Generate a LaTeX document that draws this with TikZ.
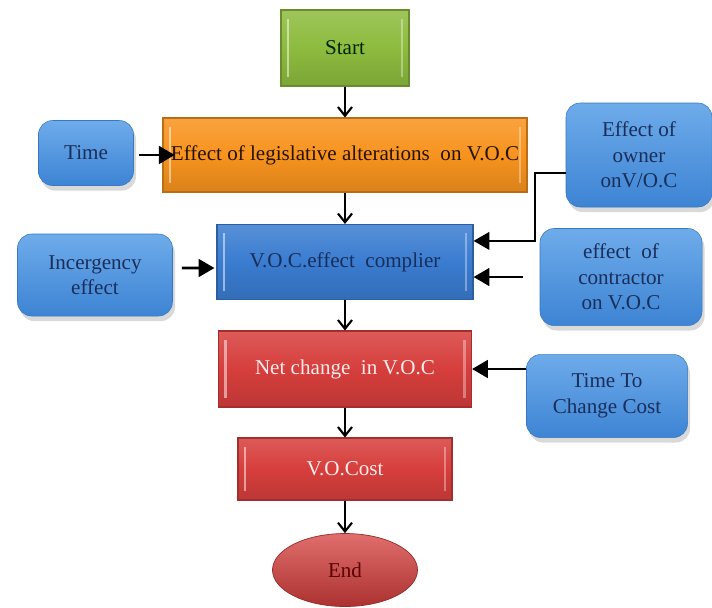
\documentclass[tikz,border=0pt]{standalone}
\usepackage{fontspec}
\setmainfont{Liberation Serif}
\usepackage{tikz}
\usetikzlibrary{arrows.meta, shapes.geometric, shadows, calc}

\definecolor{startgreen}{HTML}{8DBB3E}
\definecolor{legisorange}{HTML}{F7931E}
\definecolor{mainblue}{HTML}{3A7CD0}
\definecolor{sidetop}{HTML}{6EABEA}
\definecolor{sidebottom}{HTML}{3D84D4}
\definecolor{boxred}{HTML}{D63E3C}
\definecolor{navytext}{HTML}{1A2E5A}

\begin{document}
\begin{tikzpicture}[
  font=\fontsize{12}{14.5}\selectfont,
  flowbox/.style={rectangle, draw=#1!75!black, line width=0.6pt, top color=#1!85!white, bottom color=#1!88!black, middle color=#1, align=center, inner sep=2pt,
    path picture={
      \draw[white, opacity=0.5, line width=1.5pt] ([xshift=4pt,yshift=-5pt]path picture bounding box.north west) -- ([xshift=4pt,yshift=5pt]path picture bounding box.south west);
      \draw[white, opacity=0.35, line width=1.5pt] ([xshift=-4pt,yshift=-5pt]path picture bounding box.north east) -- ([xshift=-4pt,yshift=5pt]path picture bounding box.south east);
    }},
  sidebox/.style={rectangle, rounded corners=8pt, draw=sidebottom!90!black, line width=0.3pt, top color=sidetop, bottom color=sidebottom, text=navytext, align=center, drop shadow={opacity=0.3, shadow xshift=0.5mm, shadow yshift=-1mm}},
  flowarrow/.style={line width=1.2pt, -{Straight Barb[length=5pt, width=8pt]}},
  sidearrow/.style={line width=1.6pt, -{Triangle[length=9pt, width=10pt]}}
]
\useasboundingbox (0,0) rectangle (14.24,-12.14);

\node[flowbox=startgreen, minimum width=2.56cm, minimum height=1.52cm, text=black!85!green] (start) at (6.90,-0.96) {Start};
\node[flowbox=legisorange, minimum width=7.28cm, minimum height=1.48cm, text=black!85!orange] (legis) at (6.90,-3.10) {Effect of legislative alterations\ \ on V.O.C};
\node[flowbox=mainblue, minimum width=5.12cm, minimum height=1.50cm, text=navytext] (complier) at (6.90,-5.24) {V.O.C.effect\ \ complier};
\node[flowbox=boxred, minimum width=5.06cm, minimum height=1.52cm, text=white!92!red] (netchange) at (6.90,-7.38) {Net change\ \ in V.O.C};
\node[flowbox=boxred, minimum width=4.28cm, minimum height=1.24cm, text=white!92!red] (vocost) at (6.90,-9.38) {V.O.Cost};
\node[ellipse, draw=boxred!70!black, top color=boxred!75!white, middle color=boxred, bottom color=boxred!80!black, minimum width=2.9cm, minimum height=1.46cm, text=black!65!red] (stop) at (6.90,-11.40) {End};

\node[sidebox, minimum width=1.90cm, minimum height=1.30cm] (time) at (1.72,-3.06) {Time};
\node[sidebox, minimum width=3.10cm, minimum height=1.64cm] (incergency) at (1.90,-5.50) {Incergency\\effect};
\node[sidebox, minimum width=2.92cm, minimum height=2.08cm] (owner) at (12.78,-3.10) {Effect of\\owner\\onV/O.C};
\node[sidebox, minimum width=3.24cm, minimum height=1.94cm] (contractor) at (12.42,-5.54) {effect\ \ of\\contractor\\on V.O.C};
\node[sidebox, minimum width=3.22cm, minimum height=1.66cm] (timecost) at (12.14,-7.92) {Time To\\Change Cost};

\draw[flowarrow] (start) -- (legis);
\draw[flowarrow] (legis) -- (complier);
\draw[flowarrow] (complier) -- (netchange);
\draw[flowarrow] (netchange) -- (vocost);
\draw[flowarrow] (vocost) -- (stop);

\draw[sidearrow] ([xshift=3pt]time.east |- legis.west) -- ([xshift=7pt]legis.west);
\draw[sidearrow] ($(incergency.east)+(0.18,0.14)$) -- ($(complier.west)+(-0.04,-0.12)$);
\draw[sidearrow, line width=1.2pt] ([yshift=-10pt]owner.west) -- ++(-0.62,0) |- ([yshift=12pt]complier.east);
\draw[sidearrow] ([xshift=-0.34cm]contractor.west) -- (complier.east |- contractor.west);
\draw[sidearrow] (timecost.west |- netchange.east) -- (netchange.east);
\end{tikzpicture}
\end{document}
